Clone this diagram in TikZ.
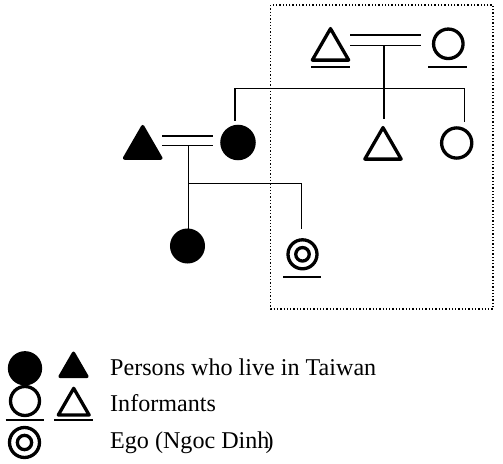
\documentclass[tikz,border=0pt]{standalone}
\usepackage{fontspec}
\setmainfont{Liberation Serif}
\usetikzlibrary{shapes.geometric}
\tikzset{
  kin/.style={line width=1.3pt},
  marriage/.style={double, line width=1.3pt, double distance=9pt},
  uline/.style={line width=1.7pt},
  male/.style={regular polygon, regular polygon sides=3, draw, line width=3.3pt,
    line join=round, minimum size=42pt, inner sep=0pt},
  female/.style={circle, draw, line width=3.3pt, minimum size=29.5pt, inner sep=0pt},
  taiwan/.style={fill=black},
  legend/.style={anchor=base west, inner sep=0pt, font=\fontsize{24.1}{28}\selectfont}
}
\begin{document}
\begin{tikzpicture}[x=1pt,y=-1pt]
		\useasboundingbox (0,0) rectangle (503,463);
		\draw[dotted, line width=1.3pt] (270.7,5) rectangle (493,309);
		% first generation
        \node[male] (gf) at (330.5,49.6) {};
        \node[female] (gm) at (448.3,43.8) {};
        \draw[uline] (311,66.7) -- (350,66.7);
        \draw[uline] (428.3,66.7) -- (466.7,66.7);
        \coordinate (gfm) at (350,40.2);
        \coordinate (gmm) at (420.7,40.2);
        \draw[marriage] (gfm) -- (gmm);
		% second generation
        \node[male] (uncle) at (383,148.6) {};
        \node[female, minimum size=30.2pt] (aunt) at (456.7,143) {};
        \node[female, taiwan, minimum size=32.2pt] (mother) at (238,142.5) {};
        \node[male, taiwan] (father) at (142.7,147.6) {};
        \coordinate (top) at (384,45.7);
        \coordinate (sibl) at (235,88.3);
        \coordinate (sibr) at (464.3,88.3);
        \draw[kin] (top) -- ++(0,73.3);
        \draw[kin] (sibl) -- (sibr);
        \draw[kin] (sibl) -- ++(0,32.4);
        \draw[kin] (sibr) -- ++(0,33.4);
        \coordinate (fm) at (162,140.9);
        \coordinate (mm) at (213,140.9);
        \draw[marriage, double distance=8.4pt] (fm) -- (mm);
		% third generation
        \node[female, taiwan, minimum size=31.7pt] (sister) at (187.5,246) {};
        \node[female, minimum size=29pt] (ego) at (302.5,254.3) {};
        \node[female, minimum size=13.5pt] (egoin) at (ego) {};
        \draw[uline] (283.3,277.3) -- (320.7,277.3);
        \coordinate (low) at (188.7,145.7);
        \coordinate (sibe) at (301.7,183.3);
        \draw[kin] (low) -- (low |- sister.north);
        \draw[kin] (low |- sibe) -- (sibe);
        \draw[kin] (sibe) -- ++(0,45.7);
		% legend
        \node[female, taiwan, minimum size=31pt] (lgf) at (25,368.3) {};
        \node[male, taiwan, minimum size=31pt] (lgm) at (73.5,368.7) {};
        \node[female, minimum size=29pt] (lif) at (25,401) {};
        \node[male, minimum size=35.6pt] (lim) at (73.7,406.1) {};
        \draw[uline] (5.7,420) -- (44.3,420);
        \draw[uline] (54,420) -- (93,420);
        \node[female, minimum size=30pt] (lego) at (24.5,442.5) {};
        \node[female, minimum size=14.3pt] (legoin) at (lego) {};
        \node[legend] (ltw) at (110,375) {Persons who live in Taiwan};
        \node[legend] (linf) at (110,411.7) {Informants};
        \node[legend] (legotxt) at (110,448) {Ego (Ngoc Dinh\kern-4pt)};
		\end{tikzpicture}
\end{document}
